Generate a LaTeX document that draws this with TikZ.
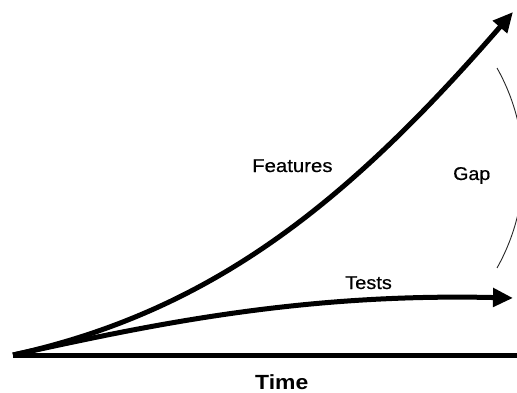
\documentclass[tikz,border=0pt]{standalone}
\usepackage{fontspec}
\setmainfont{Liberation Sans}
\newfontfamily\labelfont[FakeBold=0.6]{Liberation Sans}
\usetikzlibrary{arrows.meta}

\tikzset{
  thickline/.style={line width=5pt, draw=black},
  curvearrow/.style={thickline, -{Triangle[length=20pt, width=18pt]}},
  gapline/.style={line width=0.9pt, draw=black!85},
  lbl/.style={inner sep=0pt, anchor=base west, font=\labelfont\fontsize{18.5}{20}\selectfont},
  axislbl/.style={inner sep=0pt, anchor=base west, font=\fontsize{20.5}{22}\selectfont\bfseries},
}

\begin{document}
\begin{tikzpicture}[x=1pt, y=-1pt]
  \useasboundingbox (0,0) rectangle (517,393);
  \clip (0,0) rectangle (517,393);

  % key points
  \coordinate (origin) at (13,355);
  \coordinate (axisEnd) at (517,355);
  \coordinate (featTip) at (513,12);
  \coordinate (testTip) at (513,298);
  \coordinate (gapTop) at (497,68);

  % time axis
  \draw[thickline] (origin) -- (axisEnd);

  % features grow fast
  \draw[curvearrow] (origin) .. controls (213,311) and (348,202) .. (featTip);

  % tests grow slowly
  \draw[curvearrow] (origin) .. controls (150,325) and (300,293) .. (testTip);

  % gap between the two curves
  \draw[gapline] (gapTop) arc[start angle=29.4, end angle=-29.4, radius=203.7pt];

  % labels
  \node[lbl] (features) at (252,172) {\scalebox{1.1}[1]{Features}};
  \node[lbl] (gap) at (453,180) {\scalebox{1.06}[1]{Gap}};
  \node[lbl] (tests) at (345,289) {\scalebox{1.08}[1]{Tests}};
  \node[axislbl] (time) at (255,389) {\scalebox{1.12}[1]{Time}};
\end{tikzpicture}
\end{document}
